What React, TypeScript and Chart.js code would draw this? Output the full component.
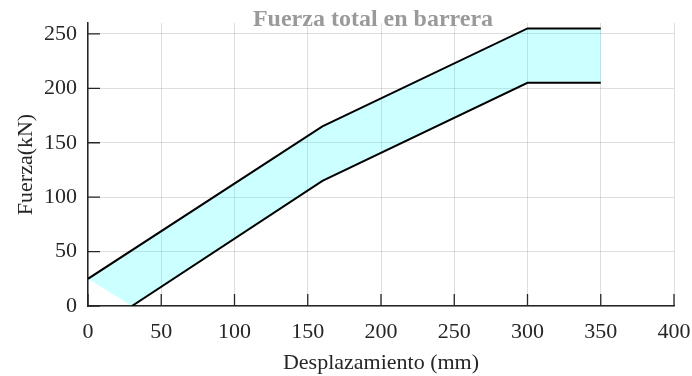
import React, { useEffect, useRef } from "react";
import { Chart, registerables } from "chart.js";

Chart.register(...registerables);

// Force–displacement envelope of the barrier (kN vs mm)
const upperX = [0, 160, 300, 350];
const upperY = [25, 165, 255, 255];
const lowerX = [30, 160, 300, 350];
const lowerY = [0, 115, 205, 205];

const xTicks = [0, 50, 100, 150, 200, 250, 300, 350, 400];
const yTicks = [0, 50, 100, 150, 200, 250];

const titleText = "Fuerza total en barrera";
const xTitle = "Desplazamiento (mm)";
const yTitle = "Fuerza(kN)";

const FONT = "'Liberation Serif', 'Times New Roman', serif";
const INK = "#262626";

// Shades the band enclosed by the two envelope lines
const bandFill = {
  id: "bandFill",
  beforeDatasetsDraw(chart: any) {
    const up = chart.getDatasetMeta(0).data;
    const lo = chart.getDatasetMeta(1).data;
    const { ctx, chartArea } = chart;
    ctx.save();
    ctx.beginPath();
    ctx.rect(chartArea.left, chartArea.top, chartArea.right - chartArea.left, chartArea.bottom - chartArea.top);
    ctx.clip();
    ctx.beginPath();
    up.forEach((p: any, i: number) => (i === 0 ? ctx.moveTo(p.x, p.y) : ctx.lineTo(p.x, p.y)));
    for (let i = lo.length - 1; i >= 0; i--) ctx.lineTo(lo[i].x, lo[i].y);
    ctx.closePath();
    ctx.fillStyle = "rgba(0, 255, 255, 0.2)";
    ctx.fill();
    ctx.restore();
  },
};

// Inward-pointing tick marks plus the chart heading
const decorations = {
  id: "decorations",
  afterDraw(chart: any) {
    const { ctx, chartArea, scales } = chart;
    const len = 12;
    ctx.save();
    ctx.strokeStyle = INK;
    ctx.lineWidth = 1.3;
    ctx.beginPath();
    xTicks.forEach((v) => {
      const px = scales.x.getPixelForValue(v);
      ctx.moveTo(px, chartArea.bottom);
      ctx.lineTo(px, chartArea.bottom - len);
    });
    yTicks.forEach((v) => {
      const py = scales.y.getPixelForValue(v);
      ctx.moveTo(chartArea.left, py);
      ctx.lineTo(chartArea.left + len, py);
    });
    ctx.stroke();

    ctx.font = `bold 24px ${FONT}`;
    ctx.fillStyle = "#9a9a9a";
    ctx.textAlign = "center";
    ctx.textBaseline = "alphabetic";
    ctx.fillText(titleText, 373, 26);
    ctx.restore();
  },
};

export default function App() {
  const canvasRef = useRef<HTMLCanvasElement | null>(null);

  useEffect(() => {
    const canvas = canvasRef.current;
    if (!canvas) return;
    const toPoints = (xs: number[], ys: number[]) => xs.map((x, i) => ({ x, y: ys[i] }));
    const tickFont = { family: FONT, size: 22 };

    const chart = new Chart(canvas, {
      type: "line",
      data: {
        datasets: [
          {
            label: "Superior",
            data: toPoints(upperX, upperY),
            borderColor: "#000",
            borderWidth: 2,
            pointRadius: 0,
            fill: false,
            tension: 0,
          },
          {
            label: "Inferior",
            data: toPoints(lowerX, lowerY),
            borderColor: "#000",
            borderWidth: 2,
            pointRadius: 0,
            fill: false,
            tension: 0,
          },
        ],
      },
      options: {
        responsive: false,
        animation: false,
        devicePixelRatio: 1,
        layout: { padding: { top: 23, right: 18, left: 0, bottom: 0 } },
        plugins: {
          legend: { display: false },
          title: { display: false },
          tooltip: { enabled: false },
        },
        scales: {
          x: {
            type: "linear",
            min: 0,
            max: 400,
            afterFit: (s: any) => {
              s.height = 70;
              s.paddingLeft = 0;
              s.paddingRight = 0;
            },
            ticks: { stepSize: 50, font: tickFont, color: INK, padding: 13, maxRotation: 0 },
            grid: { color: "rgba(0,0,0,0.13)", lineWidth: 1, drawTicks: false, tickLength: 0 },
            border: { display: true, color: INK, width: 1.5 },
            title: { display: true, text: xTitle, font: tickFont, color: INK, padding: { top: 0, bottom: 0 } },
          },
          y: {
            type: "linear",
            min: 0,
            max: 260,
            afterFit: (s: any) => {
              s.width = 88;
              s.paddingTop = 0;
              s.paddingBottom = 0;
            },
            ticks: { stepSize: 50, includeBounds: false, font: tickFont, color: INK, padding: 11 },
            grid: { color: "rgba(0,0,0,0.13)", lineWidth: 1, drawTicks: false, tickLength: 0 },
            border: { display: true, color: INK, width: 1.5 },
            title: { display: true, text: yTitle, font: tickFont, color: INK, padding: { top: 13, bottom: 0 } },
          },
        },
      },
      plugins: [bandFill, decorations],
    } as any);

    return () => chart.destroy();
  }, []);

  return (
    <div style={{ position: "fixed", left: 0, top: 0, width: 692, height: 376, background: "#fff" }}>
      <canvas ref={canvasRef} width={692} height={376} style={{ width: 692, height: 376 }} />
    </div>
  );
}
